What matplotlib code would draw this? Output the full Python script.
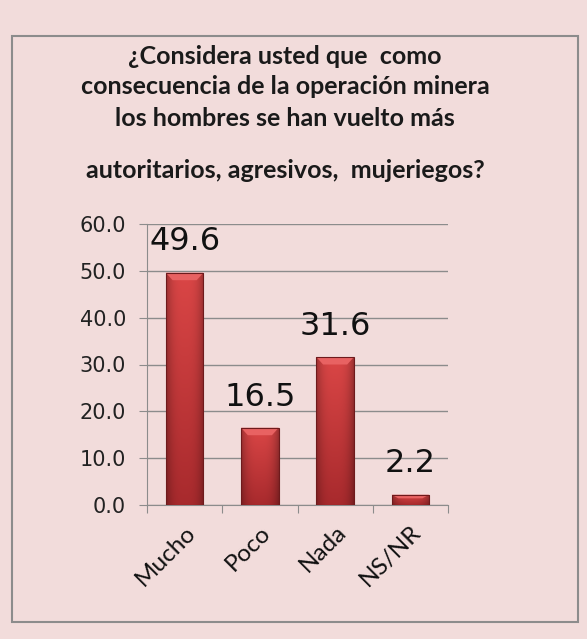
import numpy as np
import matplotlib
matplotlib.use("Agg")
import matplotlib.pyplot as plt
from matplotlib.patches import Rectangle, Polygon
from matplotlib.colors import to_rgb

categories = ["Mucho", "Poco", "Nada", "NS/NR"]
values = [49.6, 16.5, 31.6, 2.2]
yticks = [0, 10, 20, 30, 40, 50, 60]
title_lines = [
    "¿Considera usted que  como",
    "consecuencia de la operación minera",
    "los hombres se han vuelto más",
    "autoritarios, agresivos,  mujeriegos?",
]

plt.rcParams['font.family'] = ['Lato', 'DejaVu Sans']
bg = "#F2DCDB"
grid_c = "#8C8C8C"

W, H = 587, 639
fig = plt.figure(figsize=(W / 100, H / 100), dpi=100, facecolor=bg)

# outer frame
fig.patches.append(Rectangle((12 / W, 1 - 622 / H), (578 - 12) / W, (622 - 36) / H,
                             transform=fig.transFigure, fill=False,
                             edgecolor=grid_c, linewidth=1.5))

# title
for text, ypix in zip(title_lines, [57, 87, 118, 170]):
    fig.text(285 / W, 1 - ypix / H, text, ha="center", va="center",
             fontsize=18, fontweight="bold", color="#1a1a1a")

ax = fig.add_axes([147 / W, 1 - 505 / H, (448 - 147) / W, (505 - 224) / H])
ax.set_facecolor(bg)

x = np.arange(len(categories))
bw = 0.5
bars = ax.bar(x, values, width=bw, color="none", edgecolor="#6E1A1C", linewidth=0.8, zorder=4)

# shaded fill: darker at the sides and towards the bottom
top_c = np.array(to_rgb("#DA4646"))
bot_c = np.array(to_rgb("#A82A2D"))
cols = np.linspace(-1, 1, 40)
side = 1 - 0.28 * np.abs(cols) ** 3
rows = np.linspace(0, 1, 60)[:, None, None]
grad = (top_c * (1 - rows) + bot_c * rows) * side[None, :, None]
for b in bars:
    x0, h = b.get_x(), b.get_height()
    im = ax.imshow(grad, extent=(x0, x0 + bw, 0, h), aspect="auto",
                   interpolation="bilinear", zorder=3)
    im.set_clip_path(b)
    # light bevel at the top
    bev = min(1.6, h * 0.35)
    ax.add_patch(Polygon([(x0, h), (x0 + bw, h), (x0 + bw * 0.82, h - bev), (x0 + bw * 0.18, h - bev)],
                         closed=True, facecolor="#E86262", edgecolor="none", zorder=3.5))

for xi, v in zip(x, values):
    ax.annotate(f"{v:.1f}", (xi, v), xytext=(0, 16), textcoords="offset points",
                ha="center", va="baseline", fontsize=23, color="#111111",
                family="DejaVu Sans")

ax.set_xlim(-0.5, len(categories) - 0.5)
ax.set_ylim(0, 60)
ax.set_yticks(yticks)
ax.set_yticklabels([f"{t:.1f}" for t in yticks], fontsize=15, color="#222222",
                   family="DejaVu Sans")
ax.yaxis.grid(True, color=grid_c, linewidth=1)
ax.set_axisbelow(True)

ax.set_xticks(np.arange(len(categories) + 1) - 0.5)
ax.set_xticklabels([])
ax.set_xticks(x, minor=True)
ax.set_xticklabels(categories, minor=True, rotation=45, ha="right",
                   rotation_mode="anchor", fontsize=17.5, color="#111111")
ax.tick_params(axis="x", which="minor", length=0, pad=12)
ax.tick_params(axis="x", which="major", length=6, color=grid_c, direction="out")
ax.tick_params(axis="y", length=6, color=grid_c, pad=9)

for side_name in ["top", "right"]:
    ax.spines[side_name].set_visible(False)
for side_name in ["left", "bottom"]:
    ax.spines[side_name].set_color(grid_c)

fig.savefig("out.png", dpi=100, facecolor=bg)
